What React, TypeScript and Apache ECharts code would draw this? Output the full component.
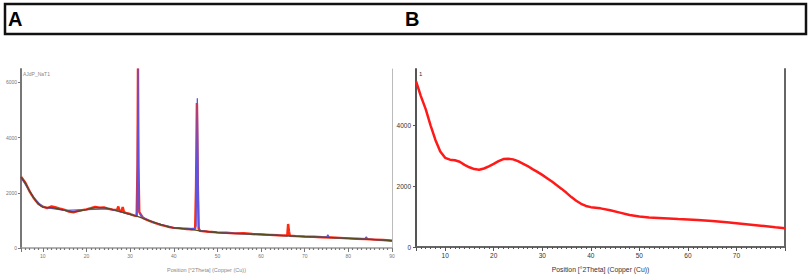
import React, { useEffect, useRef } from "react";
import * as echarts from "echarts";

// Panel A – background (olive) curve
const aBasePos = [5, 6, 7, 8, 9, 10, 12, 14, 16, 17, 18, 20, 22, 24, 26, 28, 30, 32, 34, 36, 38, 40, 42, 44, 46, 48, 50, 55, 60, 65, 70, 75, 80, 85, 90];
const aBaseVal = [2560, 2350, 2050, 1800, 1600, 1480, 1460, 1400, 1330, 1310, 1330, 1390, 1450, 1450, 1390, 1310, 1220, 1130, 1010, 900, 800, 730, 700, 670, 620, 590, 560, 520, 490, 450, 415, 385, 350, 310, 265];

// Panel A – observed (red)
const aObsPos = [5, 6, 7, 8, 9, 10, 11, 12, 13, 14, 15, 16, 17, 18, 19, 20, 21, 22, 23, 24, 25, 26, 27, 27.3, 27.6, 28, 28.3, 28.6, 29, 30, 31, 31.5, 31.7, 31.8, 31.9, 32.1, 33, 34, 35, 36, 37, 38, 39, 40, 41, 42, 43, 44, 44.9, 45.1, 45.3, 45.5, 45.7, 46, 48, 50, 52, 54, 56, 58, 60, 62, 64, 66, 66.2, 66.4, 66.6, 68, 70, 72, 74, 76, 78, 80, 82, 84, 86, 88, 90];
const aObsVal = [2580, 2360, 2040, 1790, 1590, 1500, 1440, 1510, 1470, 1420, 1380, 1320, 1290, 1340, 1370, 1400, 1440, 1490, 1460, 1470, 1420, 1390, 1380, 1500, 1340, 1330, 1480, 1300, 1270, 1230, 1170, 1160, 3000, 6500, 3000, 1300, 1080, 1010, 950, 890, 840, 800, 760, 730, 720, 700, 690, 680, 700, 2200, 5250, 2400, 700, 620, 590, 565, 550, 530, 540, 505, 490, 475, 460, 450, 870, 600, 445, 430, 415, 405, 390, 380, 365, 350, 335, 320, 305, 290, 265];

// Panel A – calculated (blue)
const aCalcPos = [5, 8, 10, 15, 20, 25, 30, 31.4, 31.6, 31.8, 32.0, 32.2, 32.5, 35, 40, 44.8, 45.1, 45.4, 45.7, 46, 50, 60, 70, 75.0, 75.3, 75.6, 80, 83.7, 84.1, 84.5, 90];
const aCalcVal = [2560, 1800, 1480, 1360, 1390, 1420, 1220, 1160, 1400, 6500, 1450, 1250, 1150, 940, 730, 700, 800, 5420, 800, 630, 560, 490, 415, 390, 480, 385, 350, 322, 400, 318, 265];

// Panel B – observed (red)
const bPos = [4, 5, 6, 7, 8, 9, 10, 11, 12, 13, 14, 15, 16, 17, 18, 19, 20, 21, 22, 23, 24, 25, 26, 27, 28, 29, 30, 31, 32, 33, 34, 35, 36, 37, 38, 39, 40, 42, 44, 46, 48, 50, 52, 55, 58, 60, 62, 65, 68, 70, 72, 75, 78, 80];
const bVal = [5450, 4960, 4530, 4000, 3520, 3140, 2930, 2870, 2850, 2800, 2700, 2620, 2560, 2540, 2580, 2650, 2730, 2820, 2890, 2900, 2880, 2820, 2740, 2660, 2560, 2470, 2370, 2260, 2150, 2030, 1910, 1780, 1640, 1520, 1420, 1350, 1310, 1270, 1210, 1130, 1050, 1000, 970, 945, 920, 905, 890, 855, 810, 780, 750, 700, 650, 620];

const headerLabels = ["A", "B"];
const xTitle = "Position [°2Theta] (Copper (Cu))";
const aSampleName = "AJdP_NaT1";
const bSampleName = "1";

const pairs = (xs: number[], ys: number[]) => xs.map((x, i) => [x, ys[i]]);
const FONT = "Liberation Sans, Arial, sans-serif";
const plain = (v: number) => String(v);

export default function App() {
  const ref = useRef<HTMLDivElement>(null);
  useEffect(() => {
    if (!ref.current) return;
    const chart = echarts.init(ref.current, undefined, { renderer: "svg" });
    chart.setOption({
      animation: false,
      backgroundColor: "#ffffff",
      textStyle: { fontFamily: FONT },
      grid: [
        { left: 21, top: 69, width: 371, height: 182, show: false },
        { left: 416, top: 69, width: 369, height: 182, show: false },
      ],
      xAxis: [
        {
          gridIndex: 0, type: "value", min: 5, max: 90, splitNumber: 9, position: "bottom",
          axisLine: { show: false },
          axisTick: { show: true, length: 4, lineStyle: { color: "#777", width: 1 } },
          minorTick: { show: true, splitNumber: 10, length: 2, lineStyle: { color: "#777", width: 1.2 } },
          axisLabel: { fontSize: 5, color: "#777", margin: 5, showMinLabel: false, fontFamily: FONT, formatter: plain },
          splitLine: { show: false },
          name: xTitle, nameLocation: "middle", nameGap: 19,
          nameTextStyle: { fontSize: 5.5, color: "#888", fontFamily: FONT },
        },
        {
          gridIndex: 0, type: "value", min: 5, max: 90, position: "top",
          axisLine: { show: true, lineStyle: { color: "#999", width: 1.5 } },
          axisTick: { show: false }, axisLabel: { show: false }, splitLine: { show: false },
        },
        {
          gridIndex: 1, type: "value", min: 4, max: 80, splitNumber: 8, position: "bottom",
          axisLine: { show: true, lineStyle: { color: "#555", width: 2 } },
          axisTick: { show: true, length: 4, lineStyle: { color: "#555", width: 1 } },
          minorTick: { show: true, splitNumber: 10, length: 2, lineStyle: { color: "#555", width: 1 } },
          axisLabel: { fontSize: 6.5, color: "#333", margin: 5, showMinLabel: false, showMaxLabel: false, fontFamily: FONT, formatter: plain },
          splitLine: { show: false },
          name: xTitle, nameLocation: "middle", nameGap: 19,
          nameTextStyle: { fontSize: 6.8, color: "#333", fontFamily: FONT },
        },
        {
          gridIndex: 1, type: "value", min: 4, max: 80, position: "top",
          axisLine: { show: true, lineStyle: { color: "#666", width: 2 } },
          axisTick: { show: false }, axisLabel: { show: false }, splitLine: { show: false },
        },
      ],
      yAxis: [
        {
          gridIndex: 0, type: "value", min: 0, max: 6480, interval: 2000, position: "left",
          axisLine: { show: true, lineStyle: { color: "#777", width: 2 } },
          axisTick: { show: true, length: 3, lineStyle: { color: "#777" } },
          axisLabel: { fontSize: 5, color: "#777", margin: 4, showMaxLabel: false, fontFamily: FONT, formatter: plain },
          splitLine: { show: false },
        },
        {
          gridIndex: 0, type: "value", min: 0, max: 6480, position: "right",
          axisLine: { show: true, lineStyle: { color: "#bbb", width: 1 } },
          axisTick: { show: false }, axisLabel: { show: false }, splitLine: { show: false },
        },
        {
          gridIndex: 1, type: "value", min: 0, max: 5850, interval: 2000, position: "left",
          axisLine: { show: true, lineStyle: { color: "#555", width: 2 } },
          axisTick: { show: true, length: 3, lineStyle: { color: "#555" } },
          axisLabel: { fontSize: 6.5, color: "#333", margin: 5, showMaxLabel: false, fontFamily: FONT, formatter: plain },
          splitLine: { show: false },
        },
        {
          gridIndex: 1, type: "value", min: 0, max: 5850, position: "right",
          axisLine: { show: true, lineStyle: { color: "#666", width: 2 } },
          axisTick: { show: false }, axisLabel: { show: false }, splitLine: { show: false },
        },
      ],
      series: [
        {
          type: "line", xAxisIndex: 0, yAxisIndex: 0, showSymbol: false, symbol: "none",
          data: pairs(aObsPos, aObsVal), lineStyle: { color: "#ff2a10", width: 2.4 }, z: 2,
        },
        {
          type: "line", xAxisIndex: 0, yAxisIndex: 0, showSymbol: false, symbol: "none",
          data: pairs(aCalcPos, aCalcVal), lineStyle: { color: "#5a55e6", width: 1.3 }, z: 3,
        },
        {
          type: "line", xAxisIndex: 0, yAxisIndex: 0, showSymbol: false, symbol: "none", smooth: 0.3,
          data: pairs(aBasePos, aBaseVal), lineStyle: { color: "#5b4a1c", width: 1.3 }, z: 4,
        },
        {
          type: "line", xAxisIndex: 2, yAxisIndex: 2, showSymbol: false, symbol: "none",
          data: pairs(bPos, bVal), lineStyle: { color: "#ff1a1a", width: 2.5 }, z: 3,
        },
      ],
      graphic: [
        {
          type: "rect", shape: { x: 5, y: 4, width: 801, height: 30 },
          style: { fill: "none", stroke: "#111", lineWidth: 2.5 },
        },
        {
          type: "text", x: 8, y: 19,
          style: { text: headerLabels[0], font: `bold 20px ${FONT}`, fill: "#000", verticalAlign: "middle" },
        },
        {
          type: "text", x: 405, y: 19,
          style: { text: headerLabels[1], font: `bold 20px ${FONT}`, fill: "#000", verticalAlign: "middle" },
        },
        {
          type: "text", x: 23, y: 71,
          style: { text: aSampleName, font: `5px ${FONT}`, fill: "#888", verticalAlign: "top" },
        },
        {
          type: "text", x: 419, y: 71,
          style: { text: bSampleName, font: `6px ${FONT}`, fill: "#333", verticalAlign: "top" },
        },
      ],
    });
    return () => chart.dispose();
  }, []);
  return (
    <div
      ref={ref}
      style={{ position: "fixed", left: 0, top: 0, width: 809, height: 278, background: "#fff" }}
    />
  );
}
